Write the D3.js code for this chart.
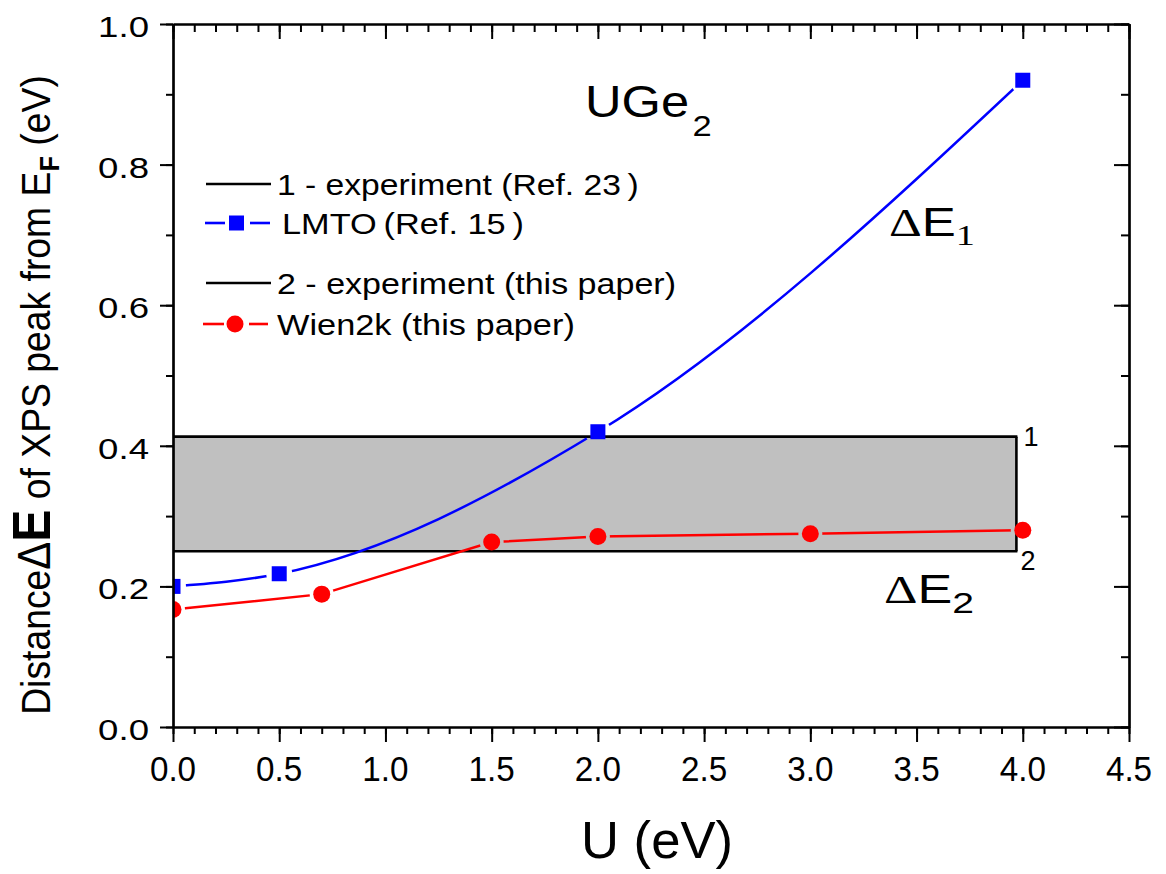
<!DOCTYPE html>
<html><head><meta charset="utf-8">
<script src="https://cdn.jsdelivr.net/npm/d3@7"></script>
<style>
body{margin:0;background:#fff}
svg{display:block}
text{font-family:"Liberation Sans",Arial,sans-serif;fill:#000}
</style>
</head><body>
<svg id="c" width="1166" height="874"></svg>
<script>
// ---- data ----
const lmtoU = [0, 0.5, 2.0, 4.0];
const lmtoE = [0.200, 0.218, 0.420, 0.920];
const wienU = [0, 0.7, 1.5, 2.0, 3.0, 4.0];
const wienE = [0.167, 0.189, 0.263, 0.271, 0.275, 0.280];
const bandU = [0, 3.97];
const bandLow = 0.250;   // 2 - experiment (this paper)
const bandHigh = 0.413;  // 1 - experiment (Ref. 23)
const xMajor = [0, 0.5, 1.0, 1.5, 2.0, 2.5, 3.0, 3.5, 4.0, 4.5];
const yMajor = [0, 0.2, 0.4, 0.6, 0.8, 1.0];
const xMinor = d3.range(0, 46).map(i => i / 10);
const yMinor = d3.range(0, 11).map(i => i / 10);
const legendLabels = ["1 - experiment (Ref. 23\u2009)", "LMTO\u2009(Ref. 15\u2009)", "2 - experiment (this paper)", "Wien2k (this paper)"];

const svg = d3.select("#c");
const x = d3.scaleLinear().domain([0, 4.5]).range([173, 1129]);
const y = d3.scaleLinear().domain([0, 1.0]).range([727, 24]);

const defs = svg.append("defs");
defs.append("clipPath").attr("id", "plotclip").append("rect")
  .attr("x", x(0)).attr("y", y(1)).attr("width", x(4.5) - x(0)).attr("height", y(0) - y(1));
const mask = defs.append("mask").attr("id", "gaps").attr("maskUnits", "userSpaceOnUse")
  .attr("x", 0).attr("y", 0).attr("width", 1166).attr("height", 874);
mask.append("rect").attr("width", 1166).attr("height", 874).attr("fill", "#fff");
lmtoU.forEach((u, i) => mask.append("circle").attr("cx", x(u)).attr("cy", y(lmtoE[i])).attr("r", 13).attr("fill", "#000"));
wienU.forEach((u, i) => mask.append("circle").attr("cx", x(u)).attr("cy", y(wienE[i])).attr("r", 12).attr("fill", "#000"));

// helper: text with horizontal scale
function addText(parent, opts) {
  const t = parent.append("text").attr("x", 0).attr("y", 0)
    .attr("text-anchor", opts.anchor || "start")
    .style("font-size", (opts.size || 30) + "px");
  if (opts.family) t.style("font-family", opts.family);
  (opts.parts || [{ t: opts.text }]).forEach(p => {
    const s = t.append("tspan").text(p.t);
    if (p.size) s.style("font-size", p.size + "px");
    if (p.weight) s.style("font-weight", p.weight);
    if (p.family) s.style("font-family", p.family);
    if (p.dy) s.attr("dy", p.dy);
    if (p.dx) s.attr("dx", p.dx);
  });
  let sx = opts.sx || 1;
  if (opts.width) sx = opts.width / t.node().getBBox().width;
  t.attr("transform", `translate(${opts.x},${opts.y}) ${opts.rotate ? "rotate(" + opts.rotate + ")" : ""} scale(${sx},1)`);
  return t;
}

// ---- band ----
const band = svg.append("g");
band.append("rect")
  .attr("x", x(bandU[0])).attr("y", y(bandHigh))
  .attr("width", x(bandU[1]) - x(bandU[0])).attr("height", y(bandLow) - y(bandHigh))
  .attr("fill", "#c0c0c0");
[bandHigh, bandLow].forEach(v => band.append("line")
  .attr("x1", x(bandU[0])).attr("x2", x(bandU[1]) + 1).attr("y1", y(v)).attr("y2", y(v))
  .attr("stroke", "#000").attr("stroke-width", 2.6));
band.append("line").attr("x1", x(bandU[1])).attr("x2", x(bandU[1]))
  .attr("y1", y(bandHigh)).attr("y2", y(bandLow)).attr("stroke", "#000").attr("stroke-width", 2.6);
addText(band, { text: "1", x: x(bandU[1]) + 7, y: y(bandHigh) + 9, size: 27 });
addText(band, { text: "2", x: x(bandU[1]) + 4, y: y(bandLow) + 19, size: 27 });

// ---- series lines ----
const lines = svg.append("g").attr("mask", "url(#gaps)");
const lmtoPts = lmtoU.map((u, i) => [u, lmtoE[i]]);
const wienPts = wienU.map((u, i) => [u, wienE[i]]);
lines.append("path").datum(lmtoPts)
  .attr("d", d3.line().x(d => x(d[0])).y(d => y(d[1])).curve(d3.curveMonotoneX))
  .attr("fill", "none").attr("stroke", "#0000ff").attr("stroke-width", 2.5);
lines.append("path").datum(wienPts)
  .attr("d", d3.line().x(d => x(d[0])).y(d => y(d[1])))
  .attr("fill", "none").attr("stroke", "#ff0000").attr("stroke-width", 2.5);

// ---- markers ----
const marks = svg.append("g").attr("clip-path", "url(#plotclip)");
marks.selectAll("rect.sq").data(lmtoPts).join("rect").attr("class", "sq")
  .attr("x", d => x(d[0]) - 7.5).attr("y", d => y(d[1]) - 7.5)
  .attr("width", 15).attr("height", 15).attr("fill", "#0000ff");
marks.selectAll("circle.ci").data(wienPts).join("circle").attr("class", "ci")
  .attr("cx", d => x(d[0])).attr("cy", d => y(d[1])).attr("r", 8.5).attr("fill", "#ff0000");

// ---- axes ----
function styleAxis(g) {
  g.selectAll("path.domain").attr("stroke", "#000").attr("stroke-width", 2.2);
  g.selectAll(".tick line").attr("stroke", "#000").attr("stroke-width", 2);
  g.selectAll(".tick text").remove();
}
const axes = svg.append("g");
axes.append("g").attr("transform", `translate(0,${y(0)})`)
  .call(d3.axisBottom(x).tickValues(xMinor).tickSize(7).tickSizeOuter(0).tickFormat("")).call(styleAxis);
axes.append("g").attr("transform", `translate(0,${y(0)})`)
  .call(d3.axisBottom(x).tickValues(xMajor).tickSize(15).tickSizeOuter(0).tickFormat("")).call(styleAxis);
axes.append("g").attr("transform", `translate(0,${y(1)})`)
  .call(d3.axisTop(x).tickValues(xMinor).tickSize(-8).tickSizeOuter(0).tickFormat("")).call(styleAxis);
axes.append("g").attr("transform", `translate(0,${y(1)})`)
  .call(d3.axisTop(x).tickValues(xMajor).tickSize(-15).tickSizeOuter(0).tickFormat("")).call(styleAxis);
axes.append("g").attr("transform", `translate(${x(0)},0)`)
  .call(d3.axisLeft(y).tickValues(yMinor).tickSize(7).tickSizeOuter(0).tickFormat("")).call(styleAxis);
axes.append("g").attr("transform", `translate(${x(0)},0)`)
  .call(d3.axisLeft(y).tickValues(yMajor).tickSize(13).tickSizeOuter(0).tickFormat("")).call(styleAxis);
axes.append("g").attr("transform", `translate(${x(4.5)},0)`)
  .call(d3.axisRight(y).tickValues(yMinor).tickSize(-8).tickSizeOuter(0).tickFormat("")).call(styleAxis);
axes.append("g").attr("transform", `translate(${x(4.5)},0)`)
  .call(d3.axisRight(y).tickValues(yMajor).tickSize(-15).tickSizeOuter(0).tickFormat("")).call(styleAxis);

// tick labels
const fmt = d3.format(".1f");
xMajor.forEach(v => addText(axes, { text: fmt(v), x: x(v), y: 781, size: 35, anchor: "middle", sx: 0.95 }));
yMajor.forEach(v => addText(axes, { text: fmt(v), x: 149, y: y(v) + 13, size: 30, anchor: "end", sx: 1.22 }));

// axis titles
addText(svg, { text: "U (eV)", x: 657, y: 858, size: 51, anchor: "middle", width: 152 });
addText(svg, {
  x: 50, y: 395, rotate: -90, anchor: "middle", size: 41, width: 640,
  parts: [{ t: "Distance" }, { t: "\u0394", size: 46 }, { t: "E", size: 53, weight: "bold" },
          { t: " of XPS peak from E" }, { t: "F", size: 28, dy: 9, weight: "bold" }, { t: " (eV)", dy: -9 }]
});

// annotations
addText(svg, {
  x: 585, y: 117, size: 44, sx: 1.15,
  parts: [{ t: "UGe" }, { t: "2", size: 30, dy: 19, dx: 3 }]
});
addText(svg, {
  x: 889, y: 236, size: 40, width: 86,
  parts: [{ t: "\u0394", family: "'Liberation Serif',serif" }, { t: "E" },
          { t: "1", size: 30, dy: 9, family: "'Liberation Serif',serif" }]
});
addText(svg, {
  x: 884, y: 603, size: 40, width: 90,
  parts: [{ t: "\u0394", family: "'Liberation Serif',serif" }, { t: "E" },
          { t: "2", size: 30, dy: 10 }]
});

// ---- legend ----
const leg = svg.append("g");
const rowsY = [184, 223, 283, 324];
const textW = [362, 242, 399, 298];
[0, 2].forEach(i => leg.append("line").attr("x1", 206).attr("x2", 271)
  .attr("y1", rowsY[i]).attr("y2", rowsY[i]).attr("stroke", "#000").attr("stroke-width", 2.6));
[[205, 225], [250, 270]].forEach(s => leg.append("line").attr("x1", s[0]).attr("x2", s[1])
  .attr("y1", rowsY[1]).attr("y2", rowsY[1]).attr("stroke", "#0000ff").attr("stroke-width", 2.6));
leg.append("rect").attr("x", 229).attr("y", rowsY[1] - 7.5).attr("width", 15).attr("height", 15).attr("fill", "#0000ff");
[[203, 224], [249, 268]].forEach(s => leg.append("line").attr("x1", s[0]).attr("x2", s[1])
  .attr("y1", rowsY[3]).attr("y2", rowsY[3]).attr("stroke", "#ff0000").attr("stroke-width", 2.6));
leg.append("circle").attr("cx", 235).attr("cy", rowsY[3]).attr("r", 8.5).attr("fill", "#ff0000");
legendLabels.forEach((l, i) => addText(leg, { text: l, x: i === 1 ? 282 : 277, y: rowsY[i] + 11, size: 29, width: textW[i] }));
</script>
</body></html>
